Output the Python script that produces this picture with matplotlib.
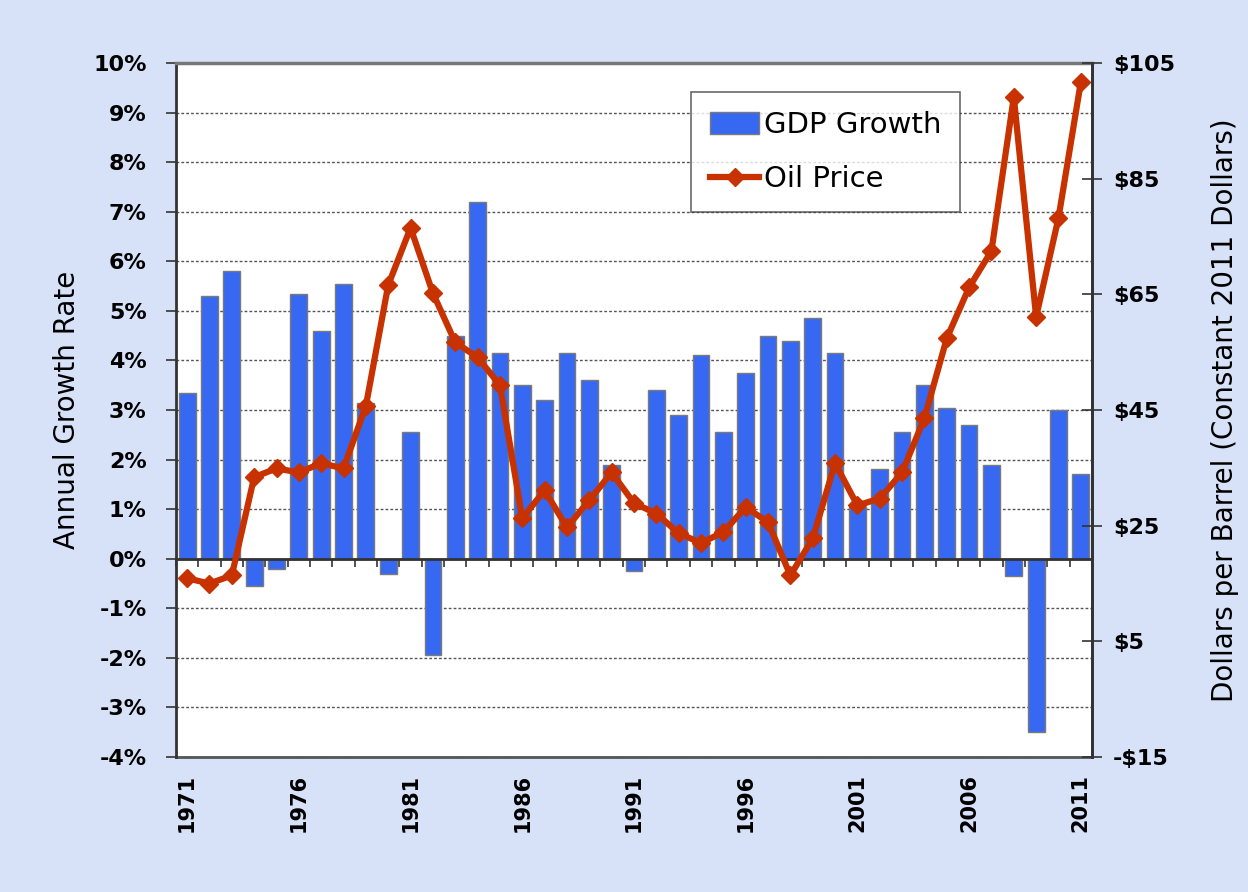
import numpy as np
import matplotlib
matplotlib.use("Agg")
import matplotlib.pyplot as plt
from matplotlib.ticker import FixedLocator

# Data
years = list(range(1971, 2012))
gdp_growth = [3.35, 5.3, 5.8, -0.55, -0.2, 5.35, 4.6, 5.55, 3.15, -0.3,
              2.55, -1.95, 4.5, 7.2, 4.15, 3.5, 3.2, 4.15, 3.6, 1.9,
              -0.25, 3.4, 2.9, 4.1, 2.55, 3.75, 4.5, 4.4, 4.85, 4.15,
              1.05, 1.8, 2.55, 3.5, 3.05, 2.7, 1.9, -0.35, -3.5, 3.0,
              1.7]
oil_price = [15.9, 15.0, 16.4, 33.4, 34.9, 34.2, 35.8, 34.9, 45.7, 66.6,
             76.5, 65.2, 56.7, 54.1, 49.3, 26.3, 31.1, 24.7, 29.4, 34.2,
             28.9, 27.1, 23.7, 22.0, 23.9, 28.2, 25.6, 16.4, 22.8, 35.8,
             28.5, 29.7, 34.2, 43.6, 57.4, 66.2, 72.5, 99.1, 61.1, 78.2,
             101.7]
year_labels = [str(y) for y in years[::5]]
pct_ticks = list(range(-4, 11))
usd_ticks = list(range(-15, 106, 20))

bg = "#d7e2f8"
bar_color = "#3768f2"
line_color = "#c83200"

fig = plt.figure(figsize=(12.48, 8.92), dpi=100, facecolor=bg)
ax = fig.add_axes([0.141, 0.1513, 0.734, 0.7781])
ax.set_facecolor("white")

x = np.arange(len(years))
bars = ax.bar(x, gdp_growth, width=0.75, color=bar_color, edgecolor="#7a7a7a",
              linewidth=1.0, label="GDP Growth", zorder=2)

ax.set_xlim(-0.5, len(years) - 0.5)
ax.set_ylim(-4, 10)
ax.set_yticks(pct_ticks)
ax.set_yticklabels([f"{v}%" for v in pct_ticks], fontsize=16, fontweight="bold")
ax.yaxis.grid(True, color="#555555", linestyle=(0, (2, 1.5)), linewidth=1.0)
ax.set_axisbelow(True)
ax.tick_params(axis="y", direction="out", length=7, width=1.2, pad=14, color="#333333")
ax.set_ylabel("Annual Growth Rate", fontsize=20, labelpad=9)

# category axis crosses at zero
ax.spines["bottom"].set_position(("data", 0))
ax.spines["bottom"].set_color("#333333")
ax.spines["bottom"].set_linewidth(2)
ax.xaxis.set_major_locator(FixedLocator(np.arange(-0.5, len(years), 1.0)))
ax.tick_params(axis="x", direction="out", length=6, width=1.2, labelbottom=False,
               color="#333333")

# year labels along the bottom of the plot
sec = ax.secondary_xaxis("bottom")
sec.set_xticks(x[::5])
sec.set_xticklabels(year_labels, rotation=90, fontsize=15, fontweight="bold")
sec.tick_params(length=0, pad=12)
sec.spines["bottom"].set_color("#555555")
sec.spines["bottom"].set_linewidth(2)

for side in ["left", "right"]:
    ax.spines[side].set_color("#333333")
    ax.spines[side].set_linewidth(2)
ax.spines["top"].set_color("#777777")
ax.spines["top"].set_linewidth(2.5)

ax2 = ax.twinx()
line, = ax2.plot(x, oil_price, color=line_color, linewidth=4.5, marker="D",
                 markersize=9, label="Oil Price", zorder=3)
ax2.set_ylim(-15, 105)
ax2.set_yticks(usd_ticks)
ax2.set_yticklabels([f"-${-v}" if v < 0 else f"${v}" for v in usd_ticks],
                    fontsize=16, fontweight="bold")
ax2.tick_params(axis="y", direction="inout", length=14, width=1.2, pad=8, color="#333333")
ax2.set_ylabel("Dollars per Barrel (Constant 2011 Dollars)", fontsize=20, labelpad=26)
for side in ["left", "bottom", "top"]:
    ax2.spines[side].set_visible(False)
ax2.spines["right"].set_color("#333333")
ax2.spines["right"].set_linewidth(2)

leg = ax2.legend([bars, line], ["GDP Growth", "Oil Price"], loc="upper left",
                 bbox_to_anchor=(0.562, 0.958), borderaxespad=0, fontsize=21,
                 frameon=True, fancybox=False, edgecolor="#444444",
                 handlelength=1.7, handleheight=0.8, handletextpad=0.15,
                 labelspacing=0.9, borderpad=0.65)
leg.get_frame().set_linewidth(1.2)

plt.savefig("out.png", dpi=100, facecolor=bg)
